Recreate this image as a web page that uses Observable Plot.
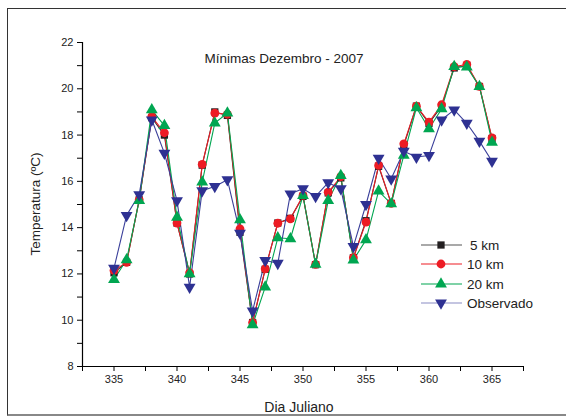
<!DOCTYPE html>
<html><head><meta charset="utf-8">
<script src="https://cdn.jsdelivr.net/npm/d3@7"></script>
<script src="https://cdn.jsdelivr.net/npm/@observablehq/plot@0.6"></script>
<style>
body{margin:0;background:#fff;font-family:"Liberation Sans",Arial,sans-serif;}
#wrap{position:relative;width:566px;height:420px;overflow:hidden;}
#frame{position:absolute;left:7px;top:8px;width:566px;height:408px;border-top:1.5px solid #333;border-left:1.5px solid #333;border-bottom:2px solid #888;box-sizing:border-box;pointer-events:none;}
</style></head>
<body><div id="wrap"><div id="frame"></div></div>
<script>
const days = d3.range(335, 366);
const km5 = [12.05,12.5,15.2,18.75,18.0,14.2,12.0,16.7,19.0,18.85,13.8,9.9,12.2,14.2,14.4,15.35,12.4,15.5,16.15,12.7,14.3,16.65,15.05,17.55,19.25,18.5,19.25,20.9,21.0,20.1,17.85];
const km10 = [12.15,12.5,15.2,18.8,18.1,14.2,12.05,16.73,18.95,18.9,13.95,9.9,12.22,14.19,14.38,15.39,12.41,15.53,16.2,12.7,14.24,16.69,15.05,17.62,19.25,18.56,19.31,20.96,21.05,20.1,17.88];
const km20 = [11.76,12.61,15.17,19.09,18.41,14.45,12.0,15.97,18.52,18.95,14.34,9.8,11.43,13.56,13.52,15.39,12.41,15.17,16.25,12.6,13.47,15.58,15.03,17.12,19.18,18.27,19.13,20.96,20.94,20.1,17.69];
const obs = [12.25,14.53,15.43,18.66,17.22,15.17,11.43,15.6,15.78,16.07,13.76,10.4,12.58,12.46,15.46,15.68,15.35,15.94,15.68,13.19,15.0,17.0,16.11,17.3,17.05,17.12,18.66,19.09,18.51,17.74,16.87];
const seriesNames = ["5 km","10 km","20 km","Observado"];
const xTicks = [335,340,345,350,355,360,365];
const yTicks = [8,10,12,14,16,18,20,22];

const triDown = {draw(ctx, size){const y=-Math.sqrt(size/(Math.sqrt(3)*3));const s=Math.sqrt(3);ctx.moveTo(0,-2*y);ctx.lineTo(-s*y,y);ctx.lineTo(s*y,y);ctx.closePath();}};
const styles = [
  {color:"#231f20", line:"#333", symbol:"square", r:4.1},
  {color:"#ed1c24", line:"#ed1c24", symbol:"circle", r:4.4},
  {color:"#00a651", line:"#00a651", symbol:"triangle", r:4.4},
  {color:"#2e3192", line:"#3a3f9a", symbol:triDown, r:4.4}
];
const allVals = [km5,km10,km20,obs];
const marks = [];
allVals.forEach((vals,i)=>{
  const data = days.map((d,j)=>({day:d,v:vals[j]}));
  marks.push(Plot.line(data,{x:"day",y:"v",stroke:styles[i].line,strokeWidth:1.1}));
});
allVals.forEach((vals,i)=>{
  const data = days.map((d,j)=>({day:d,v:vals[j]}));
  marks.push(Plot.dot(data,{x:"day",y:"v",symbol:()=>styles[i].symbol,r:styles[i].r,fill:styles[i].color,stroke:"none"}));
});
const minorX = d3.range(332.5, 367.6, 2.5);
const minorY = d3.range(8, 22.1, 1);
marks.push(
  Plot.ruleX([332.5],{stroke:"#000",strokeWidth:1.2}),
  Plot.ruleY([8],{stroke:"#000",strokeWidth:1.2}),
  Plot.axisX(minorX,{tickSize:5,tickFormat:null,text:null,stroke:"#000"}),
  Plot.axisX(xTicks,{tickSize:0,tickPadding:9,fontSize:11,fill:"#222",label:null}),
  Plot.axisY(minorY,{tickSize:5,text:null,stroke:"#000"}),
  Plot.axisY(yTicks,{tickSize:0,tickPadding:9,fontSize:11,fill:"#222",label:null})
);
const chart = Plot.plot({
  width:566,height:420,
  marginLeft:82,marginRight:43,marginTop:42,marginBottom:54,
  x:{domain:[332.5,367.5],label:null},
  y:{domain:[8,22],label:null},
  style:{fontFamily:"'Liberation Sans',Arial,sans-serif",background:"transparent"},
  marks
});
const svg = d3.select(chart);
svg.append("text").attr("x",284).attr("y",63).attr("text-anchor","middle").attr("font-size",13.5).attr("fill","#222").text("Mínimas Dezembro - 2007");
svg.append("text").attr("x",299).attr("y",412).attr("text-anchor","middle").attr("font-size",14).attr("fill","#222").text("Dia Juliano");
svg.append("text").attr("transform","translate(40,204) rotate(-90)").attr("text-anchor","middle").attr("font-size",13.5).attr("fill","#222").text("Temperatura (ºC)");
const leg = svg.append("g");
const legY = [245,264,284,303];
seriesNames.forEach((n,i)=>{
  const y = legY[i];
  leg.append("line").attr("x1",421).attr("x2",462).attr("y1",y).attr("y2",y).attr("stroke",i===3?"#8a8cc4":(i===0?"#555":styles[i].line)).attr("stroke-width",1.2);
  const sym = typeof styles[i].symbol==="string" ? {square:d3.symbolSquare,circle:d3.symbolCircle,triangle:d3.symbolTriangle}[styles[i].symbol] : styles[i].symbol;
  leg.append("path").attr("d",d3.symbol(sym, Math.PI*styles[i].r*styles[i].r)()).attr("transform",`translate(441,${y})`).attr("fill",styles[i].color);
  leg.append("text").attr("x",i===0?470:467).attr("y",y).attr("dy","0.36em").attr("text-anchor","start").attr("font-size",13.5).attr("fill","#222").text(n);
});
document.getElementById("wrap").appendChild(chart);
chart.style.position="absolute";chart.style.left="0";chart.style.top="0";
</script></body></html>
